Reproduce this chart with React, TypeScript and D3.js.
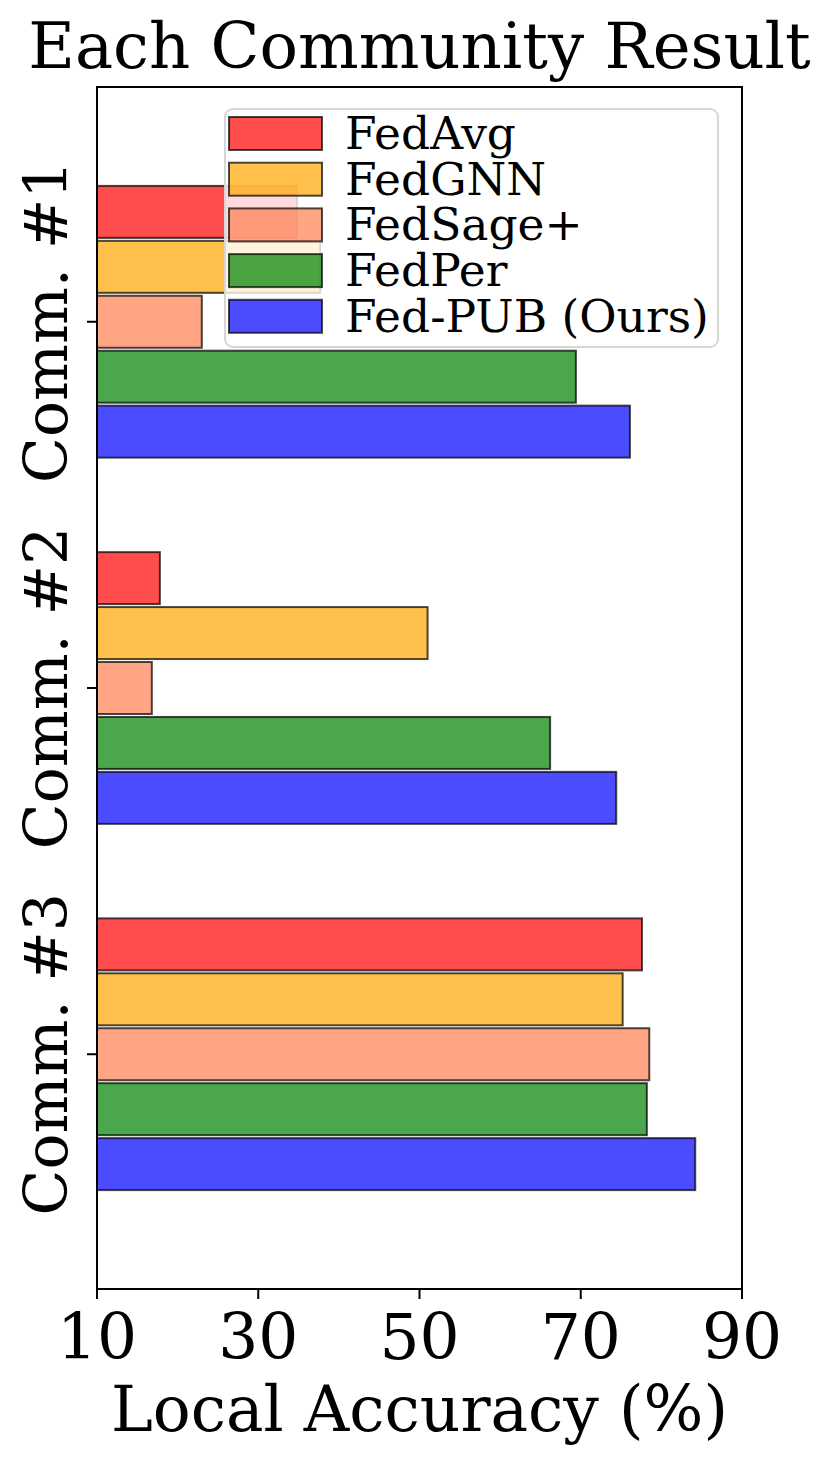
import React from 'react';
import { scaleLinear } from 'd3';

const categories = ['Comm. #1', 'Comm. #2', 'Comm. #3'];
const methods = ['FedAvg', 'FedGNN', 'FedSage+', 'FedPer', 'Fed-PUB (Ours)'];
const colors = ['#ff0000', '#ffa500', '#ff7f50', '#008000', '#0000ff'];

const fedAvg = [34.8, 17.8, 77.6];
const fedGNN = [37.7, 51.0, 75.2];
const fedSage = [23.0, 16.8, 78.5];
const fedPer = [69.4, 66.2, 78.2];
const fedPub = [76.1, 74.4, 84.2];
const series = [fedAvg, fedGNN, fedSage, fedPer, fedPub];

const xTicks = [10, 30, 50, 70, 90];

const width = 830;
const height = 1466;
const margin = { top: 87, right: 88, bottom: 177, left: 97 };
const innerW = width - margin.left - margin.right;
const innerH = height - margin.top - margin.bottom;

const font = "'DejaVu Serif', serif";
const barStep = 0.15;
const barH = 0.142;

export default function App() {
  const xScale = scaleLinear().domain([10, 90]).range([0, innerW]);
  const yScale = scaleLinear().domain([-0.641, 2.641]).range([0, innerH]);
  const band = yScale(barH) - yScale(0);

  return (
    <svg width={width} height={height} style={{ display: 'block', marginTop: -8, marginLeft: -8 }}>
      <rect width={width} height={height} fill='white' />
      <text x={margin.left + innerW / 2} y={68} textAnchor='middle' fontFamily={font} fontSize={64}>
        Each Community Result
      </text>
      <g transform={`translate(${margin.left}, ${margin.top})`}>
        {series.map((vals, i) =>
          vals.map((v, j) => (
            <rect
              key={`${i}-${j}`}
              x={0}
              y={yScale(j + (i - 2) * barStep) - band / 2}
              width={xScale(v)}
              height={band}
              fill={colors[i]}
              fillOpacity={0.7}
              stroke='black'
              strokeOpacity={0.7}
              strokeWidth={2}
            />
          ))
        )}
        {/* legend */}
        <g transform='translate(128, 22)'>
          <rect x={0} y={0} width={493} height={238} rx={8} fill='white' fillOpacity={0.8} stroke='#d6d6d6' strokeWidth={2} />
          {methods.map((m, i) => (
            <g key={m} transform={`translate(0, ${8 + i * 45.7})`}>
              <rect x={4} y={0} width={93} height={33} fill={colors[i]} fillOpacity={0.7} stroke='black' strokeOpacity={0.7} strokeWidth={2} />
              <text x={120} y={32} fontFamily={font} fontSize={45.5}>{m}</text>
            </g>
          ))}
        </g>
        {/* frame */}
        <rect x={0} y={0} width={innerW} height={innerH} fill='none' stroke='black' strokeWidth={2} />
        {xTicks.map(t => (
          <g key={t} transform={`translate(${xScale(t)}, ${innerH})`}>
            <line y2={10} stroke='black' strokeWidth={2} />
            <text y={70} textAnchor='middle' fontFamily={font} fontSize={63}>{t}</text>
          </g>
        ))}
        {categories.map((c, j) => (
          <g key={c} transform={`translate(0, ${yScale(j)})`}>
            <line x2={-10} stroke='black' strokeWidth={2} />
            <text transform='translate(-30, 0) rotate(-90)' textAnchor='middle' fontFamily={font} fontSize={60}>{c}</text>
          </g>
        ))}
        <text x={innerW / 2} y={innerH + 142} textAnchor='middle' fontFamily={font} fontSize={63}>
          Local Accuracy (%)
        </text>
      </g>
    </svg>
  );
}
